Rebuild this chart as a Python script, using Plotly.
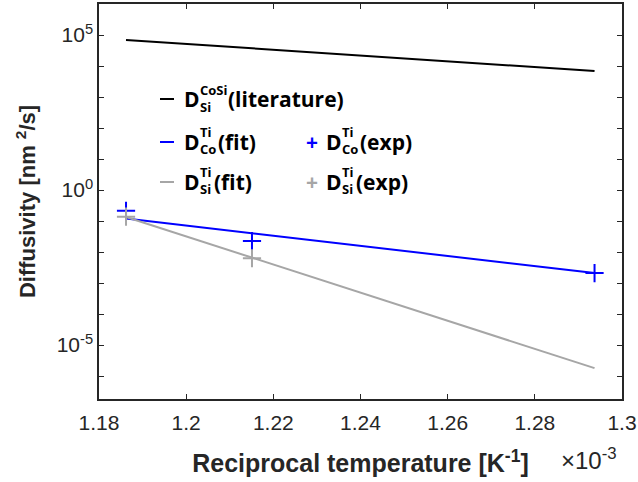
import plotly.graph_objects as go

# ---- data (x in 10^-3 K^-1, y in nm^2/s) ----
x_lit = [1.1862, 1.2937]
y_lit = [6.9e4, 6.9e3]

x_co_fit = [1.1862, 1.2937]
y_co_fit = [0.12, 2.1e-3]

x_co_exp = [1.1862, 1.2151, 1.2937]
y_co_exp = [0.215, 0.0226, 2.1e-3]

x_si_fit = [1.1862, 1.2937]
y_si_fit = [0.135, 1.8e-6]

x_si_exp = [1.1862, 1.2151]
y_si_exp = [0.138, 6.3e-3]

x_ticks = [1.18, 1.20, 1.22, 1.24, 1.26, 1.28, 1.30]
x_ticktext = ["1.18", "1.2", "1.22", "1.24", "1.26", "1.28", "1.3"]
y_major_exp = [-5, 0, 5]
y_major_text = ["10<sup>-5</sup>", "10<sup>0</sup>", "10<sup>5</sup>"]
y_minor_exp = [-6, -4, -3, -2, -1, 1, 2, 3, 4]

BLUE = "rgb(0,0,255)"
GRAY = "rgb(166,166,166)"
BLACK = "black"
AX = "#262626"

W, H = 638, 482
L, R, T, B = 99, 16, 4, 83
PW, PH = W - L - R, H - T - B


def px(x):
    return (x - L) / PW


def py(y):
    return (H - B - y) / PH


fig = go.Figure()
fig.add_trace(go.Scatter(x=x_lit, y=y_lit, mode="lines",
                         line=dict(color=BLACK, width=2)))
fig.add_trace(go.Scatter(x=x_co_fit, y=y_co_fit, mode="lines",
                         line=dict(color=BLUE, width=2)))
fig.add_trace(go.Scatter(x=x_si_fit, y=y_si_fit, mode="lines",
                         line=dict(color=GRAY, width=2)))
fig.add_trace(go.Scatter(x=x_co_exp, y=y_co_exp, mode="markers",
                         marker=dict(symbol="cross-thin-open", size=13, color=BLUE,
                                     line=dict(color=BLUE, width=2))))
fig.add_trace(go.Scatter(x=x_si_exp, y=y_si_exp, mode="markers",
                         marker=dict(symbol="cross-thin-open", size=13, color=GRAY,
                                     line=dict(color=GRAY, width=2))))

# ---- legend drawn as text ----
LEGFONT = "Open Sans"
FS, FSS = 21, 13
ann = []
shapes = []


def entry(sym_x, yc, color, is_line, sup, sub, rest, dx_rest):
    if is_line:
        shapes.append(dict(type="line", xref="paper", yref="paper",
                           x0=px(sym_x), x1=px(sym_x + 14), y0=py(yc), y1=py(yc),
                           line=dict(color=color, width=2)))
        dx = sym_x + 22
    else:
        ann.append(dict(x=px(sym_x + 6), y=py(yc), xref="paper", yref="paper",
                        text="<b>+</b>", showarrow=False, xanchor="center",
                        yanchor="middle", font=dict(family=LEGFONT, size=FS, color=color)))
        dx = sym_x + 18
    ann.append(dict(x=px(dx), y=py(yc), xref="paper", yref="paper",
                    text="<b>D</b>", showarrow=False, xanchor="left", yanchor="middle",
                    font=dict(family=LEGFONT, size=FS, color="black")))
    ann.append(dict(x=px(dx + 16), y=py(yc - 1), xref="paper", yref="paper",
                    text="<b>%s</b><br><b>%s</b>" % (sup, sub), showarrow=False,
                    xanchor="left", yanchor="middle", align="left",
                    font=dict(family=LEGFONT, size=FSS, color="black")))
    ann.append(dict(x=px(dx + dx_rest), y=py(yc), xref="paper", yref="paper",
                    text="<b>%s</b>" % rest, showarrow=False, xanchor="left", yanchor="middle",
                    font=dict(family=LEGFONT, size=FS, color="black")))


entry(160, 99, BLACK, True, "CoSi", "Si", "(literature)", 44)
entry(160, 142, BLUE, True, "Ti", "Co", "(fit)", 34)
entry(160, 182, GRAY, True, "Ti", "Si", "(fit)", 30)
entry(306, 142, BLUE, False, "Ti", "Co", "(exp)", 34)
entry(306, 182, GRAY, False, "Ti", "Si", "(exp)", 30)

ann.append(dict(x=px(559), y=py(459), xref="paper", yref="paper",
                text="\u00d710<sup>-3</sup>", showarrow=False, xanchor="left",
                yanchor="middle", font=dict(family="Liberation Sans", size=24, color=AX)))

fig.update_layout(
    width=W, height=H,
    margin=dict(l=L, r=R, t=T, b=B, autoexpand=False),
    paper_bgcolor="white", plot_bgcolor="white",
    showlegend=False,
    annotations=ann, shapes=shapes,
    font=dict(family="Liberation Sans", color=AX),
)
fig.update_xaxes(
    automargin=False,
    range=[1.18, 1.30], tickvals=x_ticks, ticktext=x_ticktext,
    ticks="inside", ticklen=5, tickwidth=1.3, tickcolor=AX,
    showline=True, linecolor=AX, linewidth=1.5, mirror="ticks",
    showgrid=False, zeroline=False, ticklabelstandoff=4,
    tickfont=dict(family="Liberation Sans", size=21, color=AX),
    title=dict(text="<b>Reciprocal temperature [K<sup>-1</sup>]</b>",
               font=dict(family="Liberation Sans", size=25, color=AX), standoff=22),
)
fig.update_yaxes(
    automargin=False,
    type="log", range=[-6.74, 6.0],
    tickvals=[10.0 ** k for k in y_major_exp],
    ticktext=y_major_text,
    ticks="inside", ticklen=5, tickwidth=1.3, tickcolor=AX,
    minor=dict(tickvals=[10.0 ** k for k in y_minor_exp], ticks="inside",
               ticklen=5, tickwidth=1.3, tickcolor=AX, showgrid=False),
    showline=True, linecolor=AX, linewidth=1.5, mirror="ticks",
    showgrid=False, zeroline=False,
    tickfont=dict(family="Liberation Sans", size=21, color=AX),
    title=dict(text="<b>Diffusivity [nm <sup>2</sup>/s]</b>",
               font=dict(family="Liberation Sans", size=22, color=AX), standoff=15),
)

fig.write_html("out.html", config={"displayModeBar": False},
               post_script="document.body.style.margin='0';")
